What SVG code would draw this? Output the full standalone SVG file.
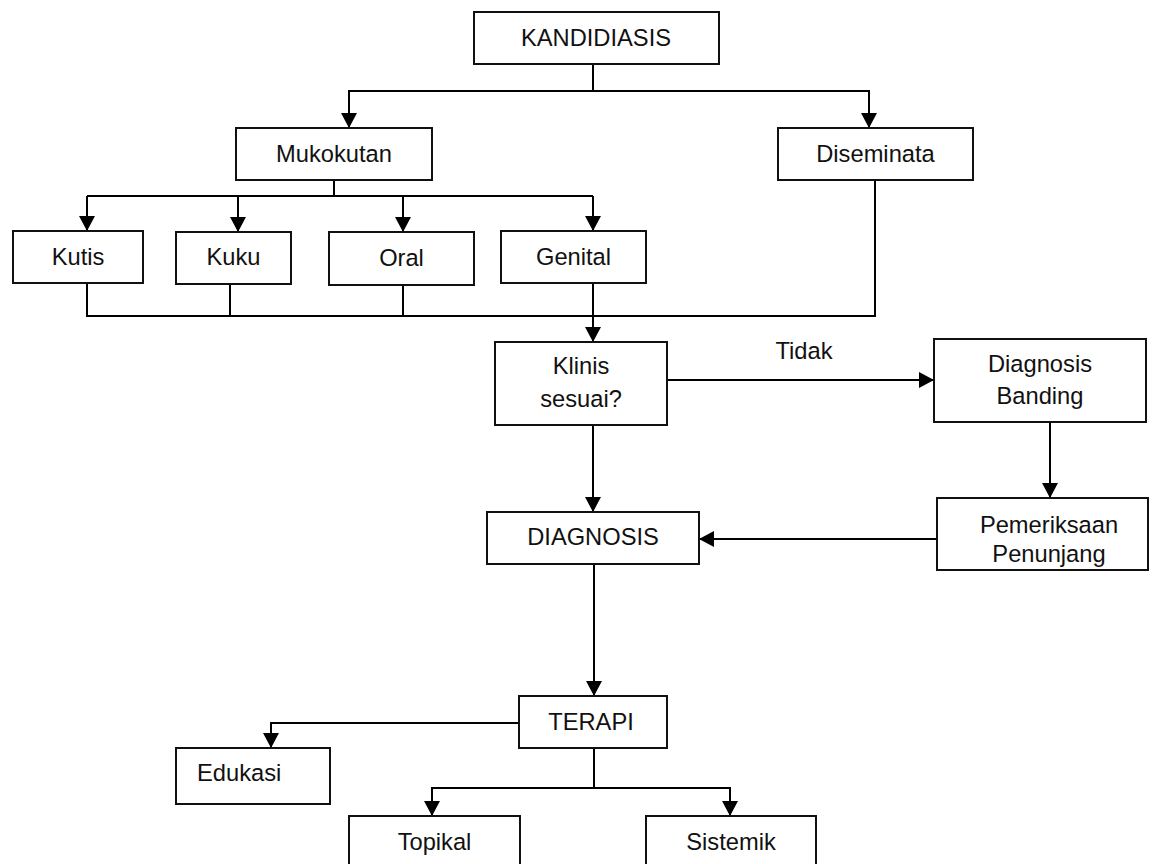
<svg xmlns="http://www.w3.org/2000/svg" width="1156" height="864" viewBox="0 0 1156 864">
  <style>
    .box { fill: #ffffff; stroke: #111111; stroke-width: 2; }
    .lbl { font-family: "Liberation Sans", Arial, sans-serif; font-size: 23.7px; fill: #111111; text-anchor: middle; }
    .wire { fill: none; stroke: #000000; stroke-width: 2; }
    .arr { fill: none; stroke: #000000; stroke-width: 2; marker-end: url(#head); }
  </style>
  <defs>
    <marker id="head" markerUnits="userSpaceOnUse" markerWidth="16" markerHeight="16" refX="15" refY="8" orient="auto">
      <path d="M0,0 L15,8 L0,16 z" fill="#000000"/>
    </marker>
  </defs>
  <rect width="1156" height="864" fill="#ffffff"/>

  <g id="connectors">
    <!-- KANDIDIASIS split -->
    <path class="wire" d="M593,64 V91"/>
    <path class="arr" d="M593,91 H349 V128"/>
    <path class="arr" d="M593,91 H869 V128"/>
    <!-- Mukokutan split -->
    <path class="wire" d="M334,180 V196 H87"/>
    <path class="wire" d="M334,196 H593"/>
    <path class="arr" d="M87,196 V231"/>
    <path class="arr" d="M238,196 V232"/>
    <path class="arr" d="M403,196 V232"/>
    <path class="arr" d="M593,196 V231"/>
    <!-- join into Klinis sesuai? -->
    <path class="wire" d="M87,283 V316 H875 V180"/>
    <path class="wire" d="M230,284 V316"/>
    <path class="wire" d="M403,285 V316"/>
    <path class="arr" d="M593,283 V342"/>
    <!-- decision branches -->
    <path class="arr" d="M667,380 H934"/>
    <path class="arr" d="M593,425 V512"/>
    <path class="arr" d="M1050,422 V498"/>
    <path class="arr" d="M937,539 H699"/>
    <!-- therapy -->
    <path class="arr" d="M594,564 V696"/>
    <path class="arr" d="M519,723 H271 V748"/>
    <path class="wire" d="M594,748 V788"/>
    <path class="arr" d="M594,788 H432 V816"/>
    <path class="arr" d="M594,788 H730 V816"/>
    <text class="lbl" x="804" y="359">Tidak</text>
  </g>

  <g id="kandidiasis">
    <rect class="box" x="474" y="12" width="245" height="52"/>
    <text class="lbl" x="596" y="46">KANDIDIASIS</text>
  </g>
  <g id="mukokutan">
    <rect class="box" x="236" y="128" width="196" height="52"/>
    <text class="lbl" x="334" y="162">Mukokutan</text>
  </g>
  <g id="diseminata">
    <rect class="box" x="778" y="128" width="195" height="52"/>
    <text class="lbl" x="875.5" y="162">Diseminata</text>
  </g>
  <g id="kutis">
    <rect class="box" x="13" y="231" width="130" height="52"/>
    <text class="lbl" x="78" y="265">Kutis</text>
  </g>
  <g id="kuku">
    <rect class="box" x="176" y="232" width="115" height="52"/>
    <text class="lbl" x="233.5" y="265">Kuku</text>
  </g>
  <g id="oral">
    <rect class="box" x="329" y="232" width="145" height="53"/>
    <text class="lbl" x="401.5" y="266">Oral</text>
  </g>
  <g id="genital">
    <rect class="box" x="501" y="231" width="145" height="52"/>
    <text class="lbl" x="573.5" y="265">Genital</text>
  </g>
  <g id="klinis-sesuai">
    <rect class="box" x="495" y="342" width="172" height="83"/>
    <text class="lbl" x="581" y="374">Klinis</text>
    <text class="lbl" x="581" y="407">sesuai?</text>
  </g>
  <g id="diagnosis-banding">
    <rect class="box" x="934" y="339" width="212" height="83"/>
    <text class="lbl" x="1040" y="372">Diagnosis</text>
    <text class="lbl" x="1040" y="404">Banding</text>
  </g>
  <g id="pemeriksaan-penunjang">
    <rect class="box" x="937" y="498" width="211" height="72"/>
    <text class="lbl" x="1049" y="533">Pemeriksaan</text>
    <text class="lbl" x="1049" y="562">Penunjang</text>
  </g>
  <g id="diagnosis">
    <rect class="box" x="487" y="512" width="212" height="52"/>
    <text class="lbl" x="593" y="545">DIAGNOSIS</text>
  </g>
  <g id="terapi">
    <rect class="box" x="519" y="696" width="148" height="52"/>
    <text class="lbl" x="591" y="730">TERAPI</text>
  </g>
  <g id="edukasi">
    <rect class="box" x="176" y="748" width="154" height="56"/>
    <text class="lbl" x="197" y="781" style="text-anchor:start">Edukasi</text>
  </g>
  <g id="topikal">
    <rect class="box" x="349" y="816" width="171" height="60"/>
    <text class="lbl" x="434.5" y="850">Topikal</text>
  </g>
  <g id="sistemik">
    <rect class="box" x="646" y="816" width="170" height="60"/>
    <text class="lbl" x="731" y="850">Sistemik</text>
  </g>
</svg>
